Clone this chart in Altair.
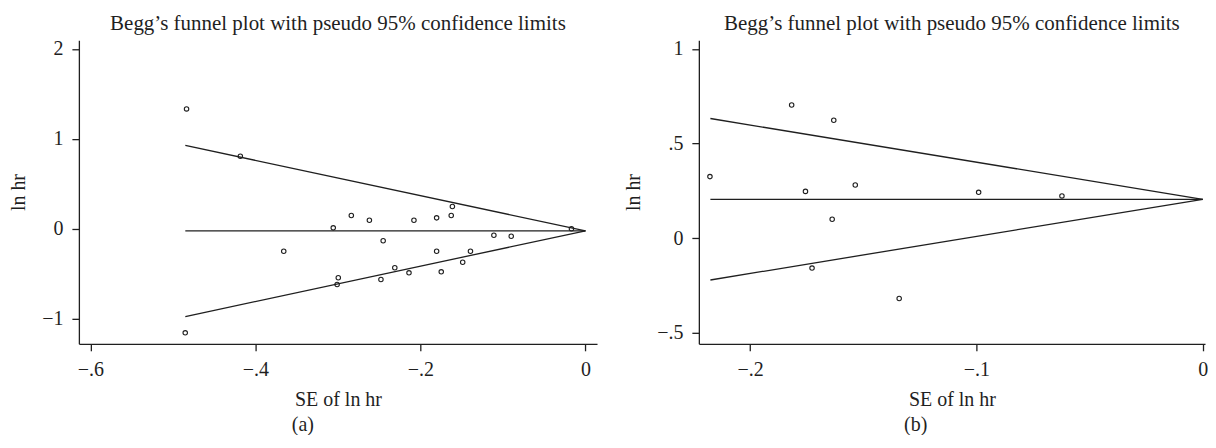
import altair as alt
import pandas as pd

# ---- Panel (a) data ----
a_se = [-0.4835, -0.4183, -0.3657, -0.3057, -0.2838, -0.2619, -0.2452, -0.2079,
        -0.1804, -0.1627, -0.1613, -0.1804, -0.1394, -0.1488, -0.1748, -0.2139,
        -0.2311, -0.2479, -0.2996, -0.3010, -0.1110, -0.0900, -0.0170, -0.4851]
a_lnhr = [1.333, 0.807, -0.249, 0.011, 0.148, 0.096, -0.133, 0.096,
          0.122, 0.148, 0.248, -0.249, -0.249, -0.371, -0.478, -0.489,
          -0.433, -0.563, -0.544, -0.619, -0.071, -0.082, 0.000, -1.156]
a_line_se = [-0.485, 0.0]
a_upper = [0.927, -0.022]
a_center = [-0.022, -0.022]
a_lower = [-0.975, -0.022]

# ---- Panel (b) data ----
b_se = [-0.2177, -0.1816, -0.1630, -0.1755, -0.1535, -0.1637, -0.0990, -0.0622,
        -0.1726, -0.1341]
b_lnhr = [0.325, 0.703, 0.623, 0.247, 0.281, 0.100, 0.242, 0.223, -0.158, -0.319]
b_line_se = [-0.2175, 0.0]
b_upper = [0.632, 0.205]
b_center = [0.205, 0.205]
b_lower = [-0.221, 0.205]

TITLE = "Begg\u2019s funnel plot with pseudo 95% confidence limits"
FONT = "Liberation Serif"
INK = "#1f1f1f"
LABEL_EXPR = "replace(format(datum.value, '~g'), '0.', '.')"


def panel(se, lnhr, lse, up, cen, lo, xdom, ydom, xticks, yticks, tag, w):
    pts = pd.DataFrame({"se": se, "lnhr": lnhr})
    rows = []
    for name, vals in (("upper", up), ("center", cen), ("lower", lo)):
        for s, v in zip(lse, vals):
            rows.append({"se": s, "lnhr": v, "kind": name})
    lines = pd.DataFrame(rows)

    xaxis = alt.Axis(values=xticks, title="SE of ln hr", labelExpr=LABEL_EXPR)
    yaxis = alt.Axis(values=yticks, title="ln hr", labelExpr=LABEL_EXPR)
    xs = alt.Scale(domain=xdom, nice=False, zero=False)
    ys = alt.Scale(domain=ydom, nice=False, zero=False)

    line_layer = alt.Chart(lines).mark_line(color=INK, strokeWidth=1.3).encode(
        x=alt.X("se:Q", scale=xs, axis=xaxis),
        y=alt.Y("lnhr:Q", scale=ys, axis=yaxis),
        detail="kind:N",
    )
    pt_layer = alt.Chart(pts).mark_point(
        filled=False, size=20, color=INK, strokeWidth=1.1, opacity=1
    ).encode(
        x=alt.X("se:Q", scale=xs),
        y=alt.Y("lnhr:Q", scale=ys),
    )
    lay = alt.layer(line_layer, pt_layer).properties(
        width=w, height=304,
        title=alt.TitleParams(TITLE, font=FONT, fontSize=21, fontWeight="normal",
                              color=INK, anchor="middle", offset=5),
    )
    return alt.vconcat(lay).properties(
        title=alt.TitleParams(tag, orient="bottom", anchor="middle", font=FONT,
                              fontSize=20, fontWeight="normal", color=INK,
                              offset=5)
    )


pa = panel(a_se, a_lnhr, a_line_se, a_upper, a_center, a_lower,
           [-0.614, 0.014], [-1.278, 2.096], [-0.6, -0.4, -0.2, 0], [-1, 0, 1, 2], "(a)", 519)
pb = panel(b_se, b_lnhr, b_line_se, b_upper, b_center, b_lower,
           [-0.2226, 0.001], [-0.558, 1.045], [-0.2, -0.1, 0], [-0.5, 0, 0.5, 1], "(b)", 507)

chart = alt.hconcat(pa, pb, spacing=26).properties(
    padding={"left": 0, "top": 4, "right": 0, "bottom": 0}
).configure_view(stroke=None).configure_axis(
    domainColor=INK, domainWidth=1.3, tickColor=INK, tickWidth=1.3, tickSize=7,
    labelFont=FONT, labelFontSize=20, labelColor=INK, labelPadding=9,
    titleFont=FONT, titleFontSize=20, titleFontWeight="normal", titleColor=INK,
    grid=False,
).configure_axisY(labelAngle=0, titlePadding=13).configure_axisX(titlePadding=10)

chart.save("out.html", embed_options={"renderer": "svg", "actions": False})
